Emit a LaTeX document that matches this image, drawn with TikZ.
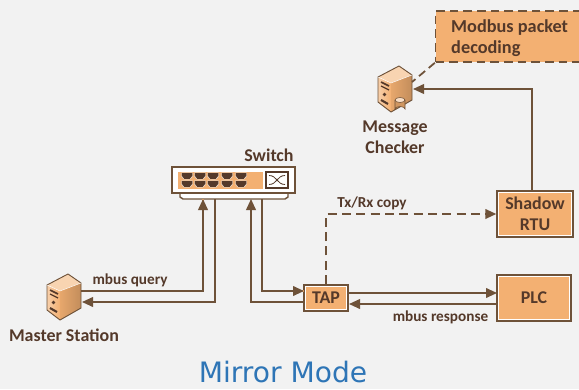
\documentclass[tikz,border=0pt]{standalone}
\usepackage{fontspec}
\setmainfont{Carlito}
\newfontfamily\titlefont{DejaVu Sans}
\usetikzlibrary{arrows.meta}
\definecolor{pagebg}{HTML}{F2F2F2}
\definecolor{wirecol}{HTML}{6E5239}
\definecolor{textcol}{HTML}{54392A}
\definecolor{boxfill}{HTML}{F3B072}
\definecolor{titlecol}{HTML}{2E75B6}
\tikzset{
  srvicon/.pic={
    \path[fill=boxfill!55!white] (4,-23) -- (17,-14) -- (-4,-6) -- (-17,-12) -- cycle;
    \path[left color=boxfill!60!white, right color=boxfill] (-17,-12) -- (-4,-6) -- (-4,23) -- (-17,13) -- cycle;
    \path[left color=boxfill!95!black, right color=boxfill!80!black] (-4,-6) -- (17,-14) -- (17,11) -- (-4,23) -- cycle;
    \draw[wirecol, line width=.8pt, line join=round] (4,-23) -- (17,-14) -- (17,11) -- (-4,23) -- (-17,13) -- (-17,-12) -- cycle;
    \draw[white, line width=.4pt] (-17,-12) -- (-4,-6) -- (17,-14);
    \draw[textcol, line width=1.4pt] (-14,-7) -- (-6,-3);
    \draw[textcol, line width=1pt] (-14,-3) -- (-6,1);
    \fill[textcol] (-10.5,5.5) circle (1.8);
    \draw[textcol, line width=1.8pt] (-14,11) -- (-7,15);
  },
  portjack/.pic={
    \fill[textcol, draw=white, line width=.3pt] (-5.5,-3.2) -- (5.5,-3.2) -- (5.5,0) -- (3,3.2) -- (-3,3.2) -- (-5.5,0) -- cycle;
  }
}
\begin{document}
\begin{tikzpicture}[
    x=0.3mm, y=-0.3mm,
    lbl/.style={text=textcol, font=\bfseries\fontsize{13}{15}\selectfont, inner sep=0pt},
    biglbl/.style={text=textcol, font=\bfseries\fontsize{15.3}{18}\selectfont, align=center, inner sep=0pt},
    hw/.style={
      draw=wirecol, line width=1.2pt, fill=white, inner sep=0pt,
      text=textcol, font=\bfseries\fontsize{15.3}{18}\selectfont, align=center,
      path picture={\fill[boxfill] ([shift={(.6mm,.6mm)}]path picture bounding box.south west) rectangle ([shift={(-.6mm,-.6mm)}]path picture bounding box.north east);}
    },
    srv/.style={minimum width=10.5mm, minimum height=14mm, inner sep=0pt},
    wire/.style={draw=wirecol, line width=1.5pt},
    arrow/.style={wire, -{Triangle[length=3.3mm, width=2.9mm]}},
    warm/.style={preaction={draw=boxfill, line width=2.2pt, -}}
  ]

  \path[use as bounding box, fill=pagebg] (0,0) rectangle (579,389);
  \clip (0,0) rectangle (579,389);

  % switch
  \draw[wirecol, line width=1.2pt, fill=white] (180,192) -- (180,197) -- (183,199) -- (285,199) -- (288,197) -- (288,192);
  \node[draw=wirecol, line width=1.2pt, fill=white, minimum width=36.9mm, minimum height=7.8mm, inner sep=0pt] (switch) at (233.5,180) {};
  \fill[boxfill] (178,172) rectangle (263,189);
  \foreach \x in {187,200,213,227,241} {
    \pic at (\x,176) {portjack};
    \pic at (\x,184) {portjack};
  }
  \node[draw=textcol, line width=1.2pt, minimum width=6.6mm, minimum height=4.8mm, inner sep=0pt] (mixer) at (277,180) {};
  \draw[textcol, line width=.7pt] (269,175.5) .. controls (277,175.5) and (277,184.5) .. (285,184.5);
  \draw[textcol, line width=.7pt] (269,184.5) .. controls (277,184.5) and (277,175.5) .. (285,175.5);
  \node[biglbl] (switchlbl) at (269,155) {Switch};

  % hosts
  \node[srv] (master) at (64,297) {};
  \pic at (64,297) {srvicon};
  \node[biglbl] (masterlbl) at (64,335) {Master Station};

  \node[srv] (checker) at (395,89) {};
  \pic at (395,89) {srvicon};
  \draw[wirecol, fill=boxfill!85!black, line width=.5pt] (395,100) -- (395,109) arc[start angle=180, end angle=360, x radius=5, y radius=2.5] -- (405,100);
  \draw[wirecol, fill=boxfill!40!white, line width=.5pt] (400,100) ellipse (5 and 2.5);
  \node[biglbl] (checkerlbl) at (395,137) {Message\\Checker};

  % boxes
  \node[hw, minimum width=13.2mm, minimum height=7.8mm] (tap) at (326,298) {TAP};
  \node[hw, minimum width=22.2mm, minimum height=13.8mm] (plc) at (534,298) {PLC};
  \node[hw, minimum width=22.8mm, minimum height=13.8mm] (shadow) at (535,214) {Shadow\\RTU};
  \node[draw=wirecol, line width=1.4pt, dashed, dash pattern=on 2.6mm off 1.5mm, fill=boxfill, preaction={draw=white, line width=1.4pt}, minimum width=47mm, minimum height=15.3mm, inner sep=0pt] (decoder) at (514,36.5) {};
  \node[text=textcol, font=\bfseries\fontsize{15.6}{18}\selectfont, align=left, inner sep=0pt, anchor=west] (decoderlbl) at (451,38) {Modbus packet\\decoding};

  % master and switch
  \coordinate (msout) at (81,291);
  \coordinate (msin) at (82,302);
  \coordinate (swinA) at (203,199);
  \coordinate (swoutA) at (215,199);
  \draw[arrow, warm] (msout) -| (swinA);
  \draw[arrow] (swoutA) |- (msin);
  \node[lbl] (querylbl) at (130,280) {mbus query};

  % switch and tap
  \coordinate (swinB) at (251,199);
  \coordinate (swoutB) at (262,199);
  \coordinate (tapinB) at (304,291);
  \coordinate (tapoutB) at (304,302);
  \draw[arrow] (tapoutB) -| (swinB);
  \draw[arrow, warm] (swoutB) |- (tapinB);

  % tap and plc
  \coordinate (tapoutP) at (348,293);
  \coordinate (plcinP) at (497,293);
  \coordinate (plcoutP) at (497,304);
  \coordinate (tapinP) at (349,304);
  \draw[arrow] (tapoutP) -- (plcinP);
  \draw[arrow] (plcoutP) -- (tapinP);
  \node[lbl] (resplbl) at (440.5,317) {mbus response};

  % copy to shadow
  \coordinate (tapcopy) at (326,284);
  \draw[arrow, dash pattern=on 2.7mm off 1.6mm] (tapcopy) |- (shadow.west);
  \node[lbl] (copylbl) at (372,203) {Tx/Rx copy};

  % shadow to checker
  \coordinate (shadowup) at (532,191);
  \coordinate (checkerin) at (413,89);
  \draw[arrow] (shadowup) |- (checkerin);

  % decoder callout
  \coordinate (calloutend) at (412,82);
  \draw[wire, dash pattern=on 2.4mm off 1.4mm] (decoder.south west) -- (calloutend);

  \node[text=titlecol, font=\titlefont\fontsize{24}{28}\selectfont, inner sep=0pt] (title) at (283,372) {Mirror Mode};
\end{tikzpicture}
\end{document}
